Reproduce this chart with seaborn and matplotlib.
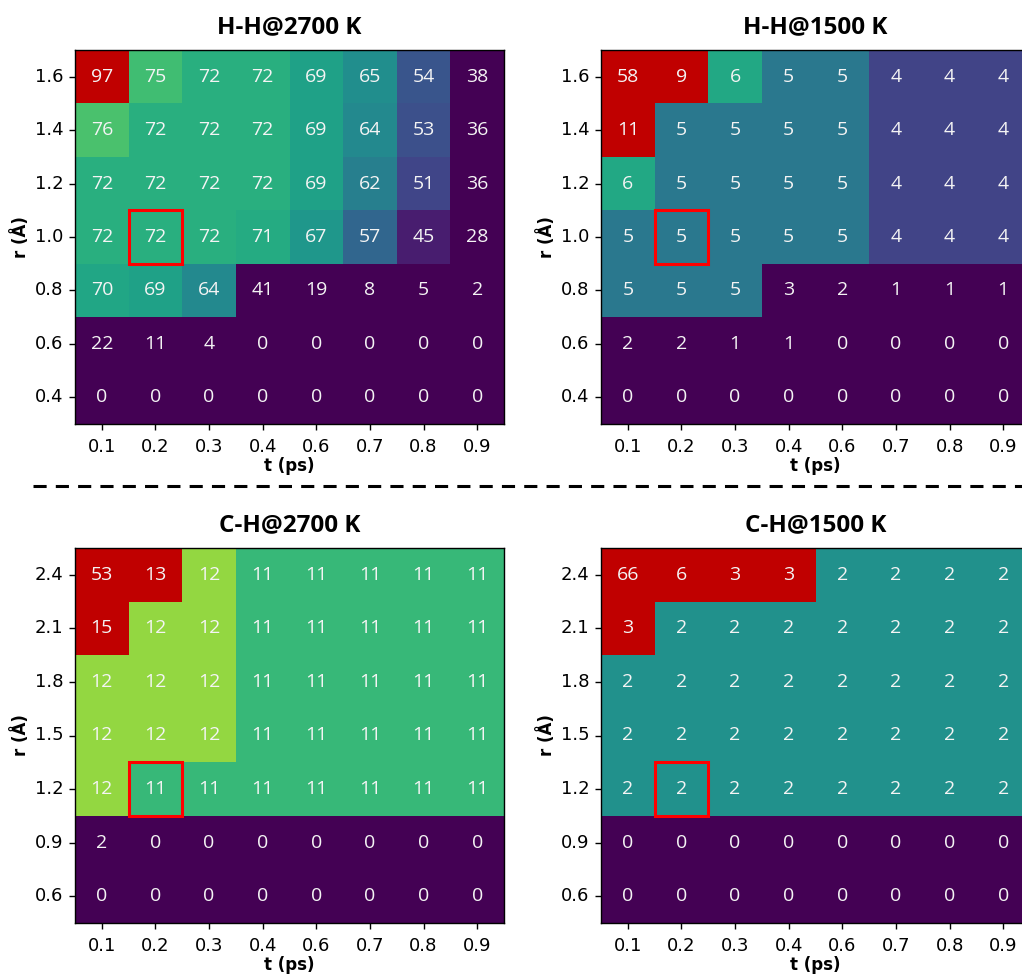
import numpy as np
import pandas as pd
import matplotlib
matplotlib.use("Agg")
import matplotlib.pyplot as plt
from matplotlib.patches import Rectangle
from matplotlib.lines import Line2D
from matplotlib import font_manager as fm
import seaborn as sns

# ---------------- data ----------------
t_labels = ["0.1", "0.2", "0.3", "0.4", "0.6", "0.7", "0.8", "0.9"]
r_hh = ["1.6", "1.4", "1.2", "1.0", "0.8", "0.6", "0.4"]
r_ch = ["2.4", "2.1", "1.8", "1.5", "1.2", "0.9", "0.6"]

hh_2700 = [
    [97, 75, 72, 72, 69, 65, 54, 38],
    [76, 72, 72, 72, 69, 64, 53, 36],
    [72, 72, 72, 72, 69, 62, 51, 36],
    [72, 72, 72, 71, 67, 57, 45, 28],
    [70, 69, 64, 41, 19, 8, 5, 2],
    [22, 11, 4, 0, 0, 0, 0, 0],
    [0, 0, 0, 0, 0, 0, 0, 0],
]
hh_1500 = [
    [58, 9, 6, 5, 5, 4, 4, 4],
    [11, 5, 5, 5, 5, 4, 4, 4],
    [6, 5, 5, 5, 5, 4, 4, 4],
    [5, 5, 5, 5, 5, 4, 4, 4],
    [5, 5, 5, 3, 2, 1, 1, 1],
    [2, 2, 1, 1, 0, 0, 0, 0],
    [0, 0, 0, 0, 0, 0, 0, 0],
]
ch_2700 = [
    [53, 13, 12, 11, 11, 11, 11, 11],
    [15, 12, 12, 11, 11, 11, 11, 11],
    [12, 12, 12, 11, 11, 11, 11, 11],
    [12, 12, 12, 11, 11, 11, 11, 11],
    [12, 11, 11, 11, 11, 11, 11, 11],
    [2, 0, 0, 0, 0, 0, 0, 0],
    [0, 0, 0, 0, 0, 0, 0, 0],
]
ch_1500 = [
    [66, 6, 3, 3, 2, 2, 2, 2],
    [3, 2, 2, 2, 2, 2, 2, 2],
    [2, 2, 2, 2, 2, 2, 2, 2],
    [2, 2, 2, 2, 2, 2, 2, 2],
    [2, 2, 2, 2, 2, 2, 2, 2],
    [0, 0, 0, 0, 0, 0, 0, 0],
    [0, 0, 0, 0, 0, 0, 0, 0],
]
titles = ["H-H@2700 K", "H-H@1500 K", "C-H@2700 K", "C-H@1500 K"]
highlight_hh = ("0.2", "1.0")
highlight_ch = ("0.2", "1.2")

# ---------------- style ----------------
sns.set_style("white")
plt.rcParams["font.family"] = ["DejaVu Sans"]
plt.rcParams["text.color"] = "black"
plt.rcParams["axes.labelcolor"] = "black"
plt.rcParams["xtick.color"] = "black"
plt.rcParams["ytick.color"] = "black"


def pick_bold_font(size):
    for fam in ("Open Sans", "Noto Sans"):
        cands = []
        for f in fm.fontManager.ttflist:
            if f.name != fam:
                continue
            fname = f.fname.lower()
            if "condensed" in fname or "italic" in fname or "semicond" in fname:
                continue
            if f.style != "normal":
                continue
            w = f.weight if isinstance(f.weight, int) else fm.weight_dict.get(f.weight, 400)
            if "bold" in fname and "semibold" not in fname and "extrabold" not in fname:
                cands.append((0, f.fname))
            elif w == 700:
                cands.append((1, f.fname))
        if cands:
            cands.sort()
            return fm.FontProperties(fname=cands[0][1], size=size)
    return fm.FontProperties(family="DejaVu Sans", weight="bold", size=size - 1)


title_fp = pick_bold_font(17.5)

cmap = matplotlib.colormaps["viridis"].copy()
cmap.set_over("#c00000")
cmap.set_under(cmap(0.0))

W, H = 1022, 976
fig = plt.figure(figsize=(W / 100, H / 100), dpi=100)

def px_axes(x0, y0, x1, y1):
    return fig.add_axes([x0 / W, 1 - y1 / H, (x1 - x0) / W, (y1 - y0) / H])

panels = [
    (hh_2700, r_hh, titles[0], 41, 90, highlight_hh, (75, 50, 504, 424)),
    (hh_1500, r_hh, titles[1], 3, 8, highlight_hh, (601, 50, 1030, 424)),
    (ch_2700, r_ch, titles[2], 7.07, 12.95, highlight_ch, (75, 548, 504, 923)),
    (ch_1500, r_ch, titles[3], 1, 2.99, highlight_ch, (601, 548, 1030, 923)),
]

for vals, rlabels, title, vmin, vmax, hl, box in panels:
    ax = px_axes(*box)
    df = pd.DataFrame(vals, index=rlabels, columns=t_labels)
    sns.heatmap(df, ax=ax, cmap=cmap, vmin=vmin, vmax=vmax, cbar=False,
                annot=True, fmt="d",
                annot_kws={"color": "#f4f4f4", "fontsize": 14,
                           "family": "Open Sans"})
    for s in ax.spines.values():
        s.set_visible(True)
        s.set_color("black")
        s.set_linewidth(1.0)
    ax.tick_params(axis="both", which="both", length=4.5, width=1, labelsize=13,
                   bottom=True, left=True, color="black", labelcolor="black")
    ax.tick_params(axis="x", pad=5.5)
    ax.tick_params(axis="y", pad=4)
    ax.set_yticklabels(rlabels, rotation=0)
    ax.set_xticklabels(t_labels, rotation=0)
    ax.set_xlabel("t (ps)", fontsize=12, fontweight="bold", labelpad=1)
    ax.set_ylabel("r (Å)", fontsize=12, fontweight="bold", labelpad=3)
    ax.set_title(title, fontproperties=title_fp, pad=12, color="black")
    ci = t_labels.index(hl[0])
    ri = rlabels.index(hl[1])
    ax.add_patch(Rectangle((ci, ri), 1, 1, fill=False, edgecolor="#ff0000",
                           linewidth=2.2, clip_on=False, zorder=5))

fig.add_artist(Line2D([33 / W, 1.0], [1 - 486 / H, 1 - 486 / H],
                      transform=fig.transFigure, color="black",
                      linewidth=2.2, linestyle=(0, (4.3, 3))))

fig.savefig("out.png", dpi=100)
